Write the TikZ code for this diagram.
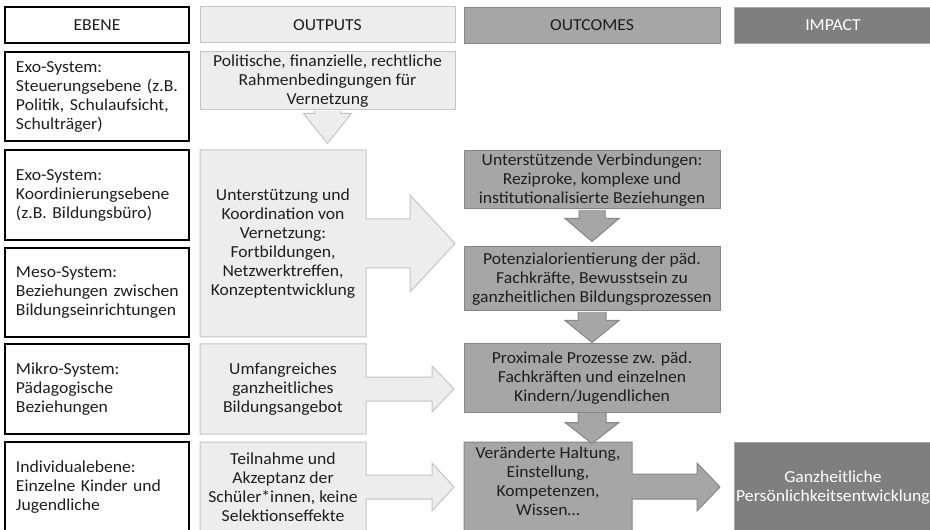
\documentclass[tikz,border=0pt]{standalone}
\usepackage{fontspec}
\setmainfont{Carlito}[FakeStretch=1.05]
\usepackage{xcolor}
\usepackage{tikz}
\usetikzlibrary{calc}

\definecolor{ink}{HTML}{1E1E1E}
\definecolor{lightfill}{HTML}{EDEDED}
\definecolor{lightdraw}{HTML}{C4C4C4}
\definecolor{midfill}{HTML}{A6A6A6}
\definecolor{middraw}{HTML}{868686}
\definecolor{darkfill}{HTML}{7F7F7F}
\definecolor{darkdraw}{HTML}{A6A6A6}

\begin{document}
\begin{tikzpicture}[x=0.75pt,y=-0.75pt,line join=miter,
  txt/.style={font=\fontsize{12.6}{14.25}\selectfont,text=ink,inner sep=0pt,align=center},
  ebene/.style={txt,draw=black,line width=1pt,fill=white,minimum width=138pt,text width=121.5pt,inner xsep=8.25pt,align=left},
  lightbox/.style={txt,draw=lightdraw,line width=0.75pt,fill=lightfill,minimum width=191.25pt},
  midbox/.style={txt,draw=middraw,line width=0.75pt,fill=midfill,minimum width=192pt},
  darkbox/.style={txt,text=white,draw=darkdraw,line width=0.75pt,fill=darkfill,minimum width=148.5pt},
  lightshape/.style={draw=lightdraw,line width=0.75pt,fill=lightfill},
  midshape/.style={draw=middraw,line width=0.75pt,fill=midfill}]
  \useasboundingbox (0,0) rectangle (930,530);
  \node[ebene,align=center,minimum height=27pt] (hebene) at (97,25) {EBENE};
  \node[lightbox,minimum height=27pt] (hout) at (327.5,25) {OUTPUTS};
  \node[midbox,minimum height=27pt] (hcome) at (592,25.5) {OUTCOMES};
  \node[darkbox,minimum height=27pt] (himp) at (833,25.5) {IMPACT};
  \node[ebene,minimum height=66.75pt] (e1) at (97,96.5) {Exo-System:\\\mbox{Steuerungsebene (z.B.}\\\mbox{Politik, Schulaufsicht,}\\Schulträger)};
  \node[ebene,minimum height=67.5pt] (e2) at (97,195) {Exo-System:\\Koordinierungsebene\\(z.B. Bildungsbüro)};
  \node[ebene,minimum height=66.75pt] (e3) at (97,292.5) {Meso-System:\\\mbox{Beziehungen zwischen}\\\mbox{Bildungseinrichtungen}};
  \node[ebene,minimum height=67.5pt] (e4) at (97,389) {Mikro-System:\\Pädagogische\\Beziehungen};
  \node[ebene,minimum height=68.25pt] (e5) at (97,487.5) {Individualebene:\\\mbox{Einzelne Kinder und}\\Jugendliche};
  \node[lightbox,minimum height=43.5pt] (o1) at (327.5,81) {Politische, finanzielle, rechtliche\\Rahmenbedingungen für\\Vernetzung};
  \draw[lightshape] (200,150) -- (366,150) -- (366,219) -- (410,219) -- (410,195) -- (455,243.5) -- (410,292) -- (410,268) -- (366,268) -- (366,337) -- (200,337) -- cycle;
  \node[txt] (o2) at (283,244) {Unterstützung und\\Koordination von\\Vernetzung:\\Fortbildungen,\\Netzwerktreffen,\\Konzeptentwicklung};
  \draw[lightshape] (200,344) -- (366,344) -- (366,377) -- (432,377) -- (432,366) -- (454,389) -- (432,412) -- (432,401) -- (366,401) -- (366,434) -- (200,434) -- cycle;
  \node[txt] (o3) at (283,389) {Umfangreiches\\ganzheitliches\\Bildungsangebot};
  \draw[lightshape] (200,442) -- (366,442) -- (366,475) -- (432,475) -- (432,463) -- (454,487) -- (432,511) -- (432,499) -- (366,499) -- (366,533) -- (200,533) -- cycle;
  \node[txt] (o4) at (283,487) {Teilnahme und\\Akzeptanz der\\Schüler*innen, keine\\Selektionseffekte};
  \node[midbox,minimum height=43.5pt] (ca) at (592,180) {Unterstützende Verbindungen:\\Reziproke, komplexe und\\institutionalisierte Beziehungen};
  \node[midbox,minimum height=48pt] (cb) at (592,279) {Potenzialorientierung der päd.\\Fachkräfte, Bewusstsein zu\\ganzheitlichen Bildungsprozessen};
  \node[midbox,minimum height=51pt] (cc) at (592,378) {Proximale Prozesse zw. päd.\\Fachkräften und einzelnen\\Kindern/Jugendlichen};
  \draw[midshape] (464,442) -- (632,442) -- (632,474) -- (697,474) -- (697,463) -- (720,487) -- (697,511) -- (697,499) -- (632,499) -- (632,533) -- (464,533) -- cycle;
  \node[txt] (cd) at (548,481) {Veränderte Haltung,\\Einstellung,\\Kompetenzen,\\Wissen…};
  \node[darkbox,minimum height=68.25pt] (im) at (833,487.5) {Ganzheitliche\\Persönlichkeitsentwicklung};
  \draw[lightshape] ($(o1.south)+(-13,0.5)$) -- ++(0,2.5) -- ++(-11,0) -- ($(o1.south)+(0,33)$) -- ($(o1.south)+(24,3)$) -- ++(-11,0) -- ++(0,-2.5);
  \draw[midshape] ($(ca.south)+(-13,0.5)$) -- ++(0,8.5) -- ++(-14,0) -- ($(cb.north)+(0,-5)$) -- ($(ca.south)+(27,9)$) -- ++(-14,0) -- ++(0,-8.5);
  \draw[midshape] ($(cb.south)+(-14,0.5)$) -- ++(0,8.5) -- ++(-13,0) -- ($(cc.north)+(0,-1)$) -- ($(cb.south)+(27,9)$) -- ++(-13,0) -- ++(0,-8.5);
  \draw[midshape] ($(cc.south)+(-14,0.5)$) -- ++(0,9.5) -- ++(-13,0) -- ($(cc.south)+(0,31)$) -- ($(cc.south)+(27,10)$) -- ++(-13,0) -- ++(0,-9.5);
\end{tikzpicture}
\end{document}
